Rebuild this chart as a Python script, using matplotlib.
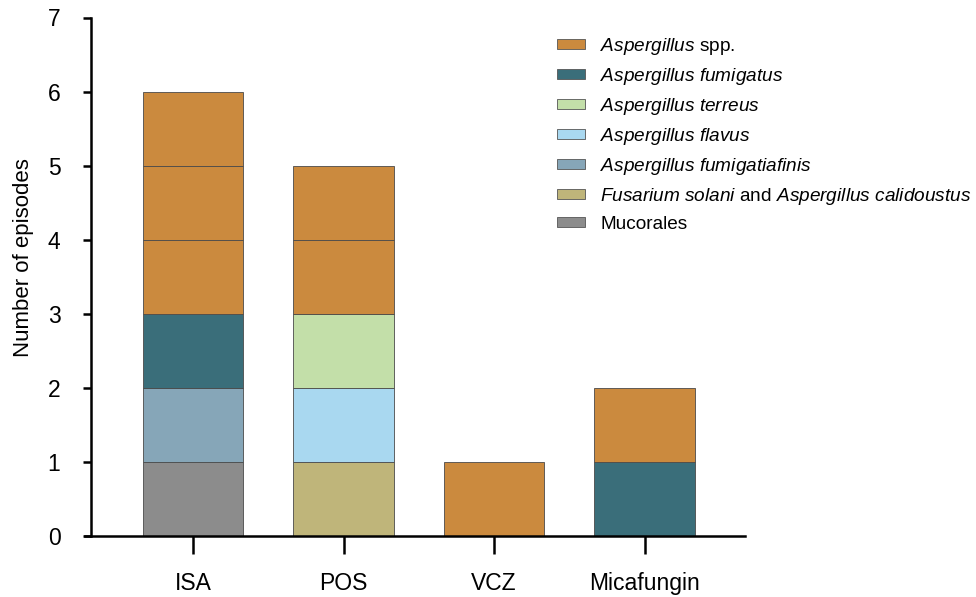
import matplotlib.pyplot as plt
from matplotlib.patches import Patch

plt.rcParams["font.family"] = ["Liberation Sans", "DejaVu Sans"]
plt.rcParams["mathtext.fontset"] = "custom"
plt.rcParams["mathtext.rm"] = "Liberation Sans"
plt.rcParams["mathtext.it"] = "Liberation Sans:italic"

drugs = ["ISA", "POS", "VCZ", "Micafungin"]

# bottom to top stacking order
species = [
    "Mucorales",
    "Fusarium solani and Aspergillus calidoustus",
    "Aspergillus fumigatiafinis",
    "Aspergillus flavus",
    "Aspergillus terreus",
    "Aspergillus fumigatus",
    "Aspergillus spp.",
]
labels = [
    "Mucorales",
    r"$\mathit{Fusarium\ solani}$ and $\mathit{Aspergillus\ calidoustus}$",
    r"$\mathit{Aspergillus\ fumigatiafinis}$",
    r"$\mathit{Aspergillus\ flavus}$",
    r"$\mathit{Aspergillus\ terreus}$",
    r"$\mathit{Aspergillus\ fumigatus}$",
    r"$\mathit{Aspergillus}$ spp.",
]
counts = {
    "Mucorales": [1, 0, 0, 0],
    "Fusarium solani and Aspergillus calidoustus": [0, 1, 0, 0],
    "Aspergillus fumigatiafinis": [1, 0, 0, 0],
    "Aspergillus flavus": [0, 1, 0, 0],
    "Aspergillus terreus": [0, 1, 0, 0],
    "Aspergillus fumigatus": [1, 0, 0, 1],
    "Aspergillus spp.": [3, 2, 1, 1],
}
colors = ["#8c8c8c", "#bfb57a", "#86a6b8", "#a9d8f0", "#c3dfa9", "#3a6e7a", "#cb8a3e"]

fig = plt.figure(figsize=(9.76, 5.97), dpi=100)
ax = fig.add_axes([85 / 976, 1 - 536 / 597, (745 - 85) / 976, (536 - 17.5) / 597])

spacing = 150.5
x0 = -(193 - 85) / spacing
x_left_spine = -(193 - 91) / spacing
x1 = (745 - 193) / spacing

bottoms = [0] * len(drugs)
for sp, col in zip(species, colors):
    for i, n in enumerate(counts[sp]):
        # each episode drawn as its own block
        for _ in range(n):
            ax.bar(i, 1, bottom=bottoms[i], width=0.665, color=col,
                   edgecolor="#4a4a4a", linewidth=0.6)
            bottoms[i] += 1

ax.set_xlim(x0, x1)
ax.set_ylim(0, 7)
ax.set_xticks(range(len(drugs)))
ax.set_xticklabels(drugs, fontsize=16.5)
ax.set_yticks(range(8))
ax.tick_params(axis="y", labelsize=16.5, width=1.8, length=6, pad=16)
ax.tick_params(axis="x", width=1.8, length=13, pad=13)
ax.set_ylabel("Number of episodes", fontsize=16)
ax.yaxis.set_label_coords(-(85 - 34) / 660, (536 - 258) / 518.5)

for s in ["top", "right"]:
    ax.spines[s].set_visible(False)
ax.spines["left"].set_position(("data", x_left_spine))
ax.spines["left"].set_linewidth(1.8)
ax.spines["bottom"].set_linewidth(1.8)

handles = [Patch(facecolor=c, edgecolor="#555555", linewidth=0.6) for c in colors]
leg = fig.legend(handles[::-1], labels[::-1], loc="upper left",
                 bbox_to_anchor=(557 / 976, 1 - 36 / 597), frameon=False,
                 fontsize=13.7, handlelength=1.47, handleheight=0.47,
                 handletextpad=0.8, labelspacing=0.47, borderaxespad=0,
                 borderpad=0)

fig.savefig("out.png", dpi=100)
